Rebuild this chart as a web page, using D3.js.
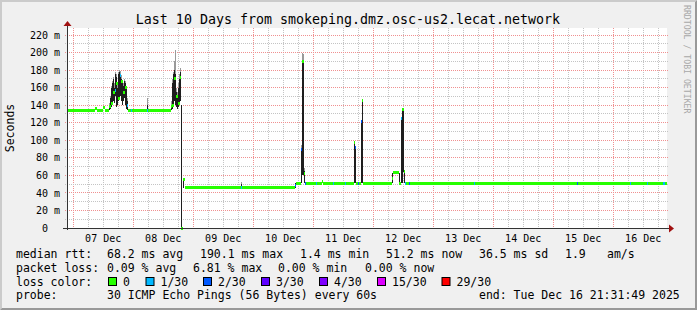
<!DOCTYPE html>
<html>
<head>
<meta charset="utf-8">
<script src="https://cdn.jsdelivr.net/npm/d3@7"></script>
<style>
body { margin: 0; background: #f0f0f0; }
svg { display: block; }
text { font-family: "DejaVu Sans Mono", monospace; }
</style>
</head>
<body>
<div id="chart"></div>
<script>
var endTime = Date.UTC(2025, 11, 16, 21, 31, 49),
    startTime = endTime - 10 * 86400000,
    stepHours = 0.4;

// median rtt as steps: hours after start, ms, loss class
var medHours = [0, 0.4, 11.2, 12.0, 14.4, 15.2, 16.8, 17.6, 18.4, 19.2, 19.6, 20.4, 21.2, 21.6, 22.4, 23.2, 24.0, 24.4, 25.6, 26.0,
  32.0, 32.4, 41.6, 42.0, 42.8, 43.6, 44.4, 45.2, 45.6, 46.4, 47.2, 69.6, 70.0, 91.2, 91.6, 93.6, 94.0, 94.8, 95.2, 95.6,
  99.6, 100.0, 102.0, 102.4, 106.4, 106.8, 111.2, 111.6, 114.8, 115.2, 115.6, 116.4, 116.8, 117.6, 118.0, 118.4, 130.0, 130.4, 132.8, 133.6,
  134.0, 134.8, 135.2, 135.6, 136.8, 137.2, 162.8, 163.2, 204.0, 204.4, 225.2, 225.6, 232.0, 232.4, 238.4, 239.2];
var medMs = [138, 134, 136, 134, 137, 134, 138, 142, 154, 157, 165, 148, 174, 167, 154, 160, 140, 134, 134, 134,
  134, 134, 138, 140, 171, 150, 142, 172, 0, 55, 46, 46, 46, 48, 51, 90, 190, 62, 51, 51,
  51, 51, 53, 51, 51, 51, 51, 51, 97, 92, 51, 51, 51, 121, 145, 51, 56, 63, 51, 125,
  135, 64, 51, 51, 51, 51, 51, 51, 51, 51, 51, 51, 51, 51, 51, 51];
var medLoss = [0, 0, 0, 0, 0, 0, 0, 0, 0, 1, 0, 0, 1, 0, 0, 0, 1, 0, 1, 0,
  1, 0, 0, 0, 0, 0, 0, 0, 0, 0, 0, 1, 0, 2, 0, 2, 0, 0, 2, 0,
  1, 0, 0, 0, 1, 0, 1, 0, 0, 2, 0, 2, 0, 2, 0, 0, 0, 0, 0, 1,
  0, 0, 1, 0, 2, 0, 1, 0, 2, 0, 1, 0, 1, 0, 1, 0];

// smoke (ping spread) columns
var smokeHours = [0, 16.8, 17.2, 17.6, 18.0, 18.4, 18.8, 19.2, 19.6, 20.0, 20.4, 20.8, 21.2, 21.6, 22.0, 22.4, 22.8, 23.2, 23.6, 24.0,
  32.0, 41.6, 42.0, 42.4, 42.8, 43.2, 43.6, 44.0, 44.4, 44.8, 45.2, 45.6, 46.4, 69.6, 91.2, 93.6, 94.0, 94.4, 94.8, 102.0,
  114.8, 115.2, 117.6, 118.0, 130.0, 132.8, 133.6, 134.0, 134.4, 134.8, 239.2];
var smokeLo = [134, 134, 136, 138, 140, 145, 142, 150, 138, 140, 145, 148, 150, 145, 140, 145, 148, 140, 136, 134,
  134, 134, 136, 140, 145, 140, 138, 136, 138, 140, 145, 0, 46, 46, 46, 51, 60, 60, 51, 51,
  51, 51, 51, 51, 51, 51, 51, 51, 64, 51, 50];
var smokeHi = [140, 140, 148, 160, 165, 170, 160, 175, 172, 160, 175, 178, 176, 170, 165, 162, 168, 165, 160, 145,
  140, 140, 165, 175, 180, 175, 155, 150, 160, 170, 178, 140, 55, 50, 51, 90, 190, 190, 65, 54,
  97, 93, 121, 145, 63, 63, 125, 135, 135, 64, 53];
var smokePeak = [145, 142, 150, 162, 168, 172, 165, 178, 176, 165, 178, 180, 179, 174, 168, 165, 170, 168, 162, 148,
  148, 145, 170, 178, 190, 203, 160, 155, 165, 175, 182, 140, 55, 52, 51, 95, 200, 198, 68, 54,
  99, 93, 121, 147, 63, 63, 125, 135, 135, 64, 53];

var yTicks = [0, 20, 40, 60, 80, 100, 120, 140, 160, 180, 200, 220];
var lossLabels = ["0", "1/30", "2/30", "3/30", "4/30", "15/30", "29/30"];
var lossColors = ["#26ff00", "#00b8ff", "#0059ff", "#5e00ff", "#7e00ff", "#dd00ff", "#ff0000"];

var titleText = "Last 10 Days from smokeping.dmz.osc-us2.lecat.network";
var rttRow = ["median rtt:", "68.2 ms avg", "190.1 ms max", "1.4 ms min", "51.2 ms now", "36.5 ms sd", "1.9", "am/s"];
var lossRow = ["packet loss:", "0.09 % avg", "6.81 % max", "0.00 % min", "0.00 % now"];
var probeRow = ["probe:", "30 ICMP Echo Pings (56 Bytes) every 60s"];

var width = 697, height = 310,
  plotLeft = 67, plotRight = 667, plotTop = 28, plotBottom = 228;

function at(h) { return new Date(startTime + h * 3600000); }

var svg = d3.select("#chart").append("svg")
  .attr("width", width)
  .attr("height", height);

// background with rrdtool style shading
svg.append("rect").attr("width", width).attr("height", height).style("fill", "#f0f0f0");
svg.append("path")
  .attr("d", `M0,0H${width}L${width-2},2H2V${height-2}L0,${height}Z`)
  .style("fill", "#cbcbcb");
svg.append("path")
  .attr("d", `M${width},0V${height}H0L2,${height-2}H${width-2}V2Z`)
  .style("fill", "#999999");

var x = d3.scaleUtc()
  .domain([new Date(startTime), new Date(endTime)])
  .range([plotLeft, plotRight]);

var y = d3.scaleLinear()
  .domain([0, 228])
  .range([plotBottom, plotTop]);

svg.append("rect")
  .attr("x", plotLeft).attr("y", plotTop)
  .attr("width", plotRight - plotLeft).attr("height", plotBottom - plotTop)
  .style("fill", "#ffffff");

// grid
var grid = svg.append("g").attr("shape-rendering", "crispEdges").style("stroke-dasharray", "1,1");
var hours6 = d3.utcHour.every(6).range(new Date(startTime), new Date(endTime));
grid.selectAll(".vg").data(hours6).enter().append("line")
  .attr("x1", function(d) { return x(d); })
  .attr("x2", function(d) { return x(d); })
  .attr("y1", plotTop).attr("y2", plotBottom + 2)
  .style("stroke", function(d) { return d.getUTCHours() == 0 ? "#f09090" : "#c4c4c4"; });

var tens = d3.range(10, 228, 10);
grid.selectAll(".hg").data(tens).enter().append("line")
  .attr("x1", plotLeft - 2).attr("x2", plotRight + 2)
  .attr("y1", function(d) { return y(d); })
  .attr("y2", function(d) { return y(d); })
  .style("stroke", function(d) { return d % 20 == 0 ? "#f09090" : "#c4c4c4"; });

// smoke
var smoke = svg.append("g").attr("shape-rendering", "crispEdges");
smoke.selectAll(".peak").data(smokeHours).enter().append("rect")
  .attr("x", function(d) { return x(at(d)); })
  .attr("width", function(d) { return x(at(d + stepHours)) - x(at(d)); })
  .attr("y", function(d, i) { return y(smokePeak[i]); })
  .attr("height", function(d, i) { return y(smokeHi[i]) - y(smokePeak[i]); })
  .style("fill", "#9a9a9a");
smoke.selectAll(".core").data(smokeHours).enter().append("rect")
  .attr("x", function(d) { return x(at(d)); })
  .attr("width", function(d) { return x(at(d + stepHours)) - x(at(d)); })
  .attr("y", function(d, i) { return y(smokeHi[i]); })
  .attr("height", function(d, i) { return y(smokeLo[i]) - y(smokeHi[i]); })
  .style("fill", "#1e1e1e");

// median line, coloured by loss
svg.append("g").attr("shape-rendering", "crispEdges")
  .selectAll("rect").data(medHours).enter().append("rect")
  .attr("x", function(d) { return x(at(d)); })
  .attr("width", function(d, i) {
    var next = i + 1 < medHours.length ? medHours[i + 1] : 240;
    return x(at(next)) - x(at(d));
  })
  .attr("y", function(d, i) { return y(medMs[i]) - 1.5; })
  .attr("height", 3)
  .style("fill", function(d, i) { return lossColors[medLoss[i]]; });

// axes
svg.append("line").attr("x1", plotLeft).attr("x2", plotLeft).attr("y1", plotBottom + 2).attr("y2", plotTop - 4)
  .style("stroke", "#333").attr("shape-rendering", "crispEdges");
svg.append("line").attr("x1", plotLeft - 4).attr("x2", plotRight + 3).attr("y1", plotBottom).attr("y2", plotBottom)
  .style("stroke", "#333").attr("shape-rendering", "crispEdges");
svg.append("path").attr("d", `M${plotLeft-3.5},${plotTop-2}L${plotLeft+0.5},${plotTop-7}L${plotLeft+4.5},${plotTop-2}Z`).style("fill", "#a01010");
svg.append("path").attr("d", `M${plotRight+2},${plotBottom-3.5}L${plotRight+7},${plotBottom+0.5}L${plotRight+2},${plotBottom+4.5}Z`).style("fill", "#a01010");

svg.selectAll(".ylab").data(yTicks).enter().append("text")
  .attr("x", 60)
  .attr("y", function(d) { return y(d); })
  .attr("dy", "0.36em")
  .attr("text-anchor", "end")
  .attr("xml:space", "preserve")
  .style("white-space", "pre")
  .attr("font-size", 10)
  .text(function(d) { return d == 0 ? "0  " : d + " m"; });

var days = d3.utcDay.range(new Date(startTime), new Date(endTime));
svg.selectAll(".xlab").data(days).enter().append("text")
  .attr("x", function(d) { return x(d3.utcHour.offset(d, 12)); })
  .attr("y", 241.5)
  .attr("text-anchor", "middle")
  .attr("font-size", 10)
  .text(d3.utcFormat("%d %b"));

// titles
svg.append("text").attr("x", 348).attr("y", 24).attr("text-anchor", "middle")
  .attr("font-size", 13.3).text(titleText);
svg.append("text").attr("transform", "translate(14,128) rotate(-90)").attr("text-anchor", "middle")
  .attr("font-size", 11.5).text("Seconds");
svg.append("text").attr("transform", "translate(684,5) rotate(90)")
  .attr("font-size", 8.2).style("fill", "#a8a8a8").text("RRDTOOL / TOBI OETIKER");

// legend
var legend = svg.append("g").attr("font-size", 11.5);
var rttX = [16, 107, 200, 300, 386, 479, 565, 607];
rttRow.forEach(function(t, i) {
  legend.append("text").attr("x", rttX[i]).attr("y", 258.3).text(t);
});
var lossX = [16, 107, 193, 278, 365];
lossRow.forEach(function(t, i) {
  legend.append("text").attr("x", lossX[i]).attr("y", 272).text(t);
});
legend.append("text").attr("x", 16).attr("y", 285.7).text("loss color:");
var boxX = [108.5, 146, 203.5, 261.5, 319.5, 377.5, 442];
lossLabels.forEach(function(t, i) {
  legend.append("rect").attr("x", boxX[i]).attr("y", 277.5).attr("width", 8).attr("height", 8)
    .style("fill", lossColors[i]).style("stroke", "#000");
  legend.append("text").attr("x", boxX[i] + 14.5).attr("y", 285.7).text(t);
});
legend.append("text").attr("x", 16).attr("y", 299.4).text(probeRow[0]);
legend.append("text").attr("x", 107).attr("y", 299.4).text(probeRow[1]);
legend.append("text").attr("x", 479).attr("y", 299.4)
  .text("end: " + d3.utcFormat("%a %b %d %H:%M:%S %Y")(new Date(endTime)));
</script>
</body>
</html>
